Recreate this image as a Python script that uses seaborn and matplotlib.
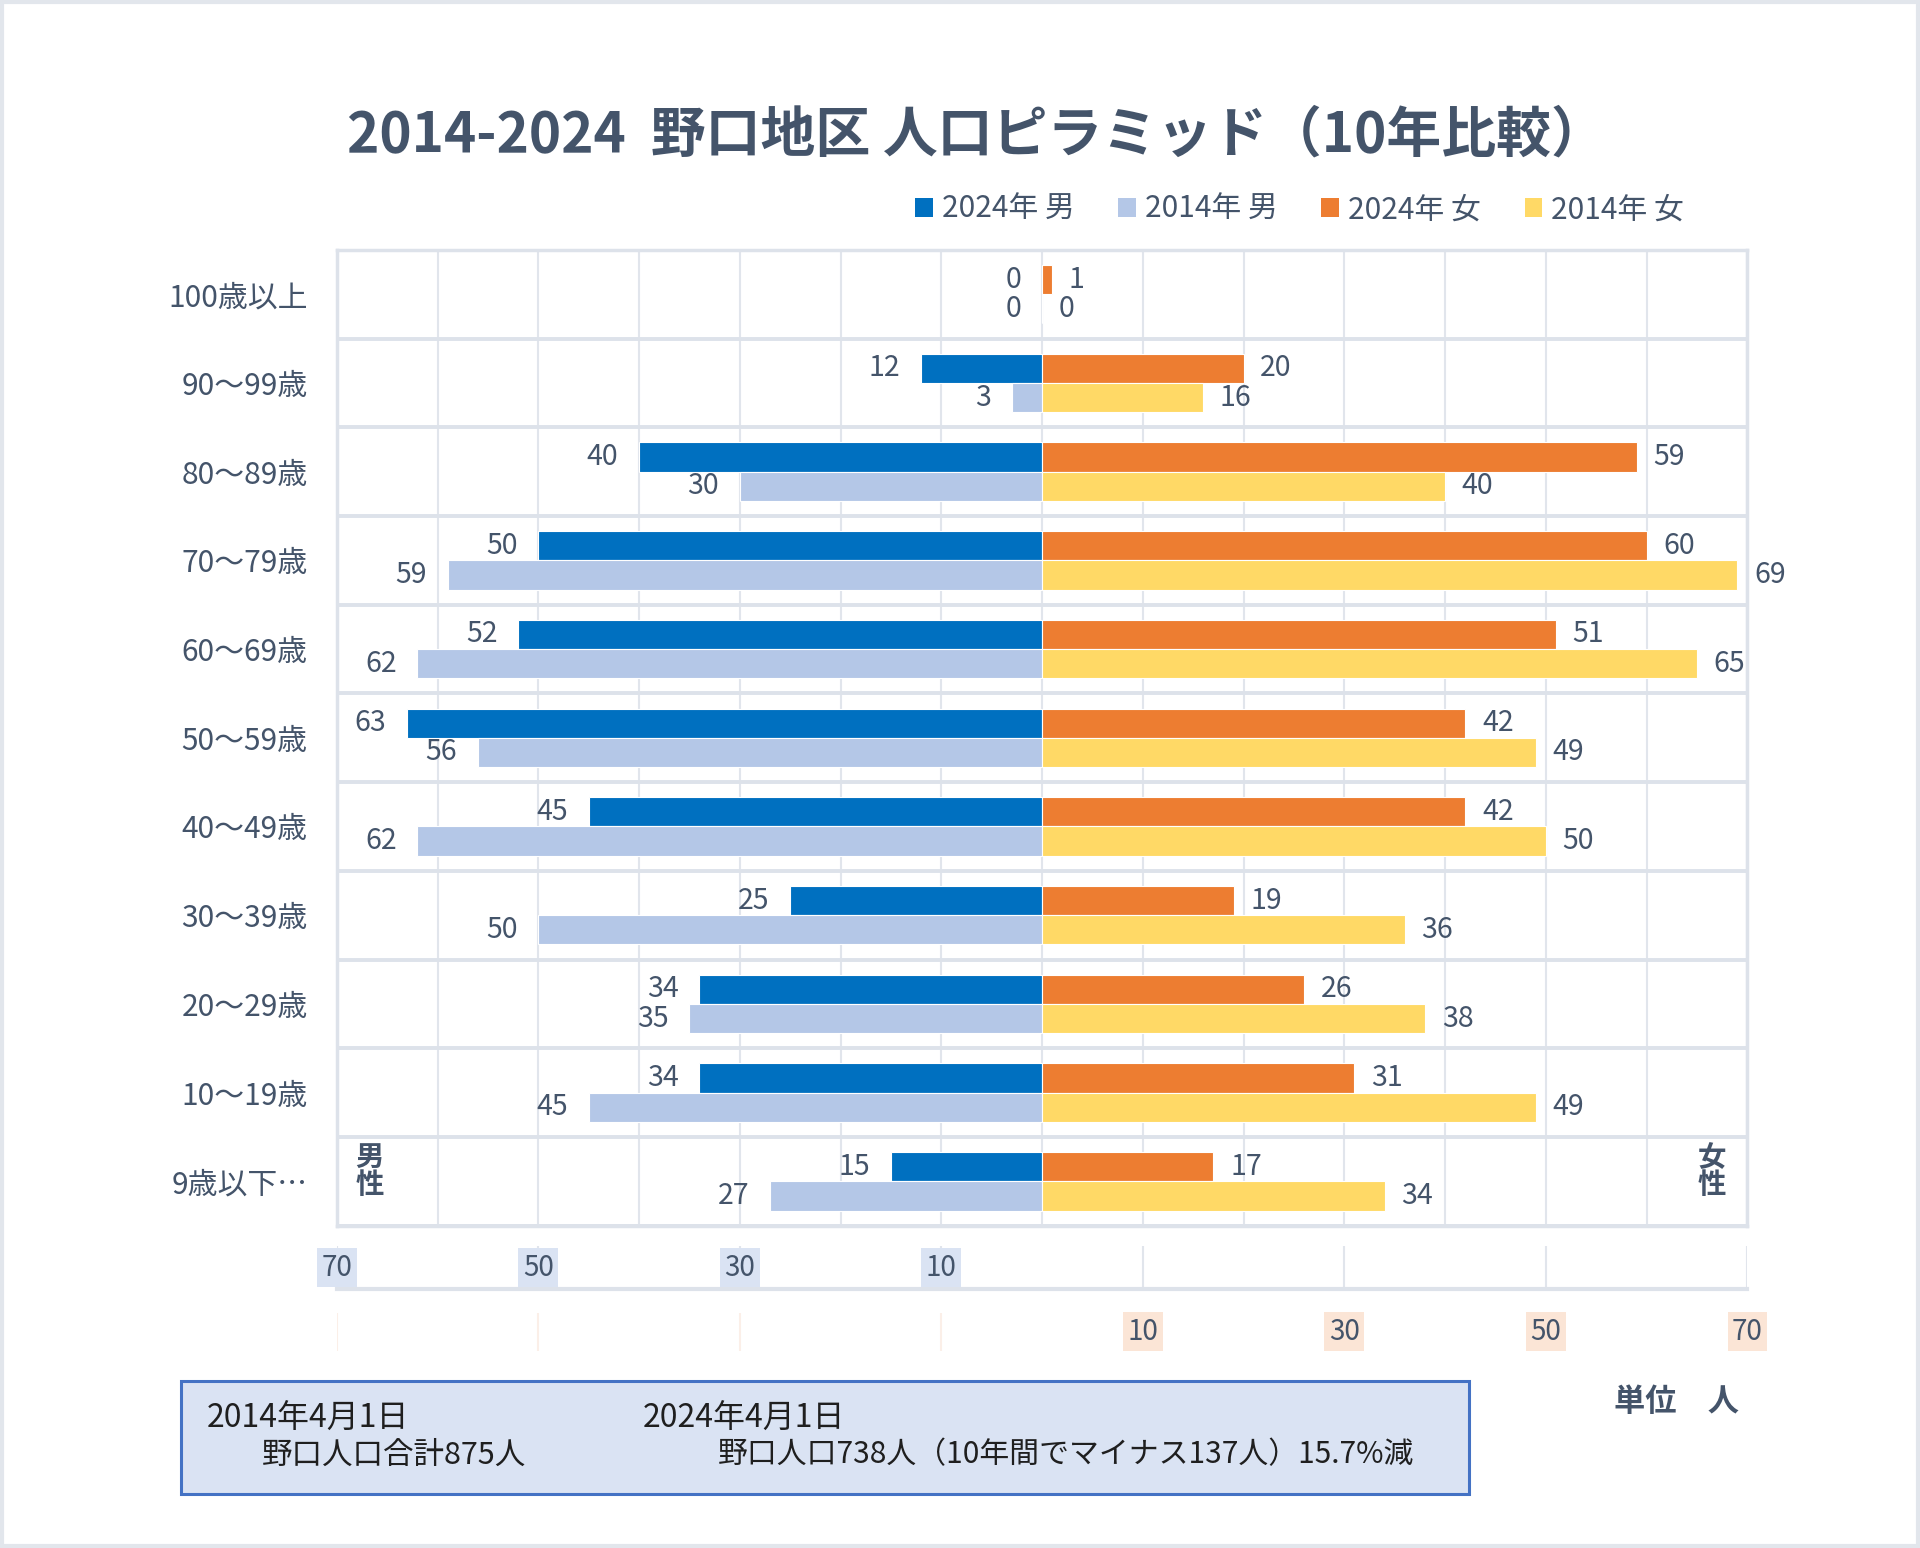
import matplotlib
matplotlib.use("Agg")
import matplotlib.pyplot as plt
import seaborn as sns
import pandas as pd
import numpy as np
from matplotlib.patches import Patch, Rectangle

# ---- data ----
ages = ["100歳以上", "90〜99歳", "80〜89歳", "70〜79歳", "60〜69歳", "50〜59歳",
        "40〜49歳", "30〜39歳", "20〜29歳", "10〜19歳", "9歳以下…"]
male_2024 = [0, 12, 40, 50, 52, 63, 45, 25, 34, 34, 15]
male_2014 = [0, 3, 30, 59, 62, 56, 62, 50, 35, 45, 27]
female_2024 = [1, 20, 59, 60, 51, 42, 42, 19, 26, 31, 17]
female_2014 = [0, 16, 40, 69, 65, 49, 50, 36, 38, 49, 34]
years = ["2024年", "2014年"]
legend_labels = ["2024年 男", "2014年 男", "2024年 女", "2014年 女"]
grid_ticks = list(range(-70, 71, 10))
scale_ticks = [-70, -50, -30, -10, 10, 30, 50, 70]
male_ticks = [-70, -50, -30, -10]
female_ticks = [10, 30, 50, 70]
title = "2014-2024  野口地区 人口ピラミッド（10年比較）"
box_dates = ["2014年4月1日", "2024年4月1日"]
box_totals = ["野口人口合計875人", "野口人口738人（10年間でマイナス137人）15.7%減"]

# ---- style ----
sns.set_theme(style="white")
plt.rcParams['font.family'] = ['Noto Sans CJK JP', 'DejaVu Sans']
TEXT = "#44546A"
C_M24, C_M14, C_F24, C_F14 = "#0070C0", "#B4C7E7", "#ED7D31", "#FFD966"
GRID = "#E1E5EC"
SEP = "#DDE2EA"

male_df = pd.DataFrame({
    "age": ages * 2,
    "value": [-v for v in male_2024] + [-v for v in male_2014],
    "year": [years[0]] * len(ages) + [years[1]] * len(ages),
})
female_df = pd.DataFrame({
    "age": ages * 2,
    "value": female_2024 + female_2014,
    "year": [years[0]] * len(ages) + [years[1]] * len(ages),
})

fig = plt.figure(figsize=(19.2, 15.48), dpi=100)
fig.patch.set_facecolor("white")

L, W = 0.1754, 0.7347
ax = fig.add_axes([L, 0.2082, W, 0.6304])
for df, pal in [(male_df, [C_M24, C_M14]), (female_df, [C_F24, C_F14])]:
    sns.barplot(data=df, y="age", x="value", hue="year", hue_order=years,
                order=ages, palette=pal, orient="h", width=0.66, ax=ax,
                legend=False, errorbar=None, saturation=1,
                edgecolor="white", linewidth=0.8, zorder=3)

ax.set_xlim(-70, 70)
ax.set_ylim(len(ages) - 0.5, -0.5)
ax.set_xticks(grid_ticks)
ax.set_xticklabels([])
ax.set_yticks(np.arange(-0.5, len(ages), 1), minor=True)
ax.grid(axis="x", which="major", color=GRID, lw=1.5, zorder=0)
ax.grid(axis="y", which="minor", color=SEP, lw=2.8, zorder=0)
ax.grid(axis="y", which="major", visible=False)
ax.set_axisbelow(True)
ax.tick_params(axis="both", which="both", length=0)
ax.tick_params(axis="y", labelsize=21.5, labelcolor=TEXT, pad=21)
ax.set_xlabel("")
ax.set_ylabel("")
for s in ax.spines.values():
    s.set_color(SEP)
    s.set_linewidth(2.5)

# value labels
for i, cont in enumerate(ax.containers):
    male = i < 2
    for p in cont.patches:
        b = p.get_bbox()
        yc = (b.ymin + b.ymax) / 2
        val = abs(p.get_width())
        if male:
            ax.annotate(f"{val:.0f}", (b.xmin, yc), xytext=(-15, 0),
                        textcoords="offset points", ha="right", va="center",
                        fontsize=20.5, color=TEXT)
        else:
            ax.annotate(f"{val:.0f}", (b.xmax, yc), xytext=(12, 0),
                        textcoords="offset points", ha="left", va="center",
                        fontsize=20.5, color=TEXT)

ax.text(0.0234, 0.056, "男\n性", transform=ax.transAxes, ha="center", va="center",
        fontsize=20.5, fontweight="bold", color=TEXT, linespacing=0.95)
ax.text(0.9748, 0.056, "女\n性", transform=ax.transAxes, ha="center", va="center",
        fontsize=20.5, fontweight="bold", color=TEXT, linespacing=0.95)

# male scale axis
ax_m = fig.add_axes([L, 0.1671, W, 0.0277])
ax_m.set_xlim(-70, 70)
ax_m.set_ylim(0, 1)
ax_m.set_xticks(scale_ticks)
ax_m.set_xticklabels([])
ax_m.set_yticks([])
ax_m.grid(axis="x", color=GRID, lw=1.5)
ax_m.tick_params(length=0)
for k, s in ax_m.spines.items():
    s.set_visible(k == "bottom")
ax_m.spines["bottom"].set_color(SEP)
ax_m.spines["bottom"].set_linewidth(3)
for t in male_ticks:
    ax_m.text(t, 0.5, f"{abs(t)}", transform=ax_m.get_xaxis_transform(),
              ha="center", va="center", fontsize=20, color=TEXT,
              bbox=dict(boxstyle="square,pad=0.16", fc="#DAE3F3", ec="none"))

# female scale axis
ax_f = fig.add_axes([L, 0.1275, W, 0.0245])
ax_f.set_xlim(-70, 70)
ax_f.set_ylim(0, 1)
ax_f.set_xticks(scale_ticks)
ax_f.set_xticklabels([])
ax_f.set_yticks([])
ax_f.grid(axis="x", color="#FBEFE8", lw=1.5)
ax_f.tick_params(length=0)
for s in ax_f.spines.values():
    s.set_visible(False)
for t in female_ticks:
    ax_f.text(t, 0.5, f"{t}", transform=ax_f.get_xaxis_transform(),
              ha="center", va="center", fontsize=20, color=TEXT,
              bbox=dict(boxstyle="square,pad=0.16", fc="#FBE5D6", ec="none"))

# title & legend
fig.text(0.5085, 0.913, title, ha="center", va="center", fontsize=39.5,
         fontweight="bold", color=TEXT)
handles = [Patch(facecolor=c, edgecolor="none") for c in [C_M24, C_M14, C_F24, C_F14]]
fig.legend(handles, legend_labels, loc="center", bbox_to_anchor=(0.677, 0.8645),
           ncol=4, frameon=False, fontsize=21.5, labelcolor=TEXT,
           handlelength=0.6, handleheight=0.6, handletextpad=0.3,
           columnspacing=1.45)

# info box
fig.patches.append(Rectangle((0.0943, 0.0349), 0.671, 0.073, transform=fig.transFigure,
                             facecolor="#DAE3F3", edgecolor="#4472C4", lw=2.2))
fig.text(0.1078, 0.0835, box_dates[0], ha="left", va="center", fontsize=23, color="#1F1F1F")
fig.text(0.3348, 0.0835, box_dates[1], ha="left", va="center", fontsize=23, color="#1F1F1F")
fig.text(0.1365, 0.0600, box_totals[0], ha="left", va="center", fontsize=22, color="#1F1F1F")
fig.text(0.3737, 0.0600, box_totals[1], ha="left", va="center", fontsize=21.5, color="#1F1F1F")

fig.text(0.873, 0.0945, "単位　人", ha="center", va="center", fontsize=22.5,
         fontweight="bold", color=TEXT)

# outer frame
fig.patches.append(Rectangle((0.001, 0.001), 0.998, 0.998, transform=fig.transFigure,
                             fill=False, edgecolor="#E2E6EC", lw=3))

fig.savefig("out.png", dpi=100)
